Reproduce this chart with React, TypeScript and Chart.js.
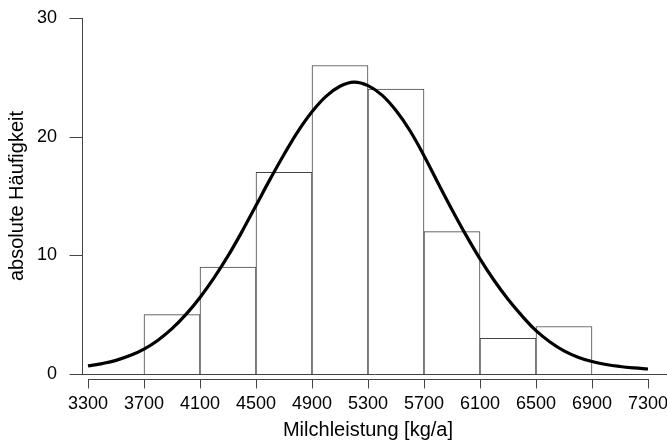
import React, { useEffect, useRef } from 'react';
import { Chart, registerables } from 'chart.js';

Chart.register(...registerables);

// Histogram bins (class centres) and absolute frequencies
const binCenters = [3900, 4300, 4700, 5100, 5500, 5900, 6300, 6700];
const binCounts = [5, 9, 17, 26, 24, 12, 3, 4];

// Fitted density curve (scaled to counts)
const curveX = [
  3300, 3400, 3500, 3600, 3700, 3800, 3900, 4000, 4100, 4200,
  4300, 4400, 4500, 4600, 4700, 4800, 4900, 5000, 5100, 5200,
  5300, 5400, 5500, 5600, 5700, 5800, 5900, 6000, 6100, 6200,
  6300, 6400, 6500, 6600, 6700, 6800, 6900, 7000, 7100, 7200, 7300,
];
const curveY = [
  0.68, 0.88, 1.15, 1.55, 2.1, 2.85, 3.82, 5.02, 6.45, 8.1,
  9.95, 12.0, 14.2, 16.4, 18.5, 20.45, 22.1, 23.4, 24.25, 24.6,
  24.3, 23.5, 22.2, 20.5, 18.4, 16.1, 13.85, 11.7, 9.7, 7.9,
  6.3, 4.9, 3.65, 2.7, 1.95, 1.42, 1.05, 0.8, 0.63, 0.51, 0.42,
];

const xTickValues = [3300, 3700, 4100, 4500, 4900, 5300, 5700, 6100, 6500, 6900, 7300];
const xTickLabels = ['3300', '3700', '4100', '4500', '4900', '5300', '5700', '6100', '6500', '6900', '7300'];
const yTickValues = [0, 10, 20, 30];
const yTickLabels = ['0', '10', '20', '30'];

const xTitle = 'Milchleistung [kg/a]';
const yTitle = 'absolute Häufigkeit';

const FONT = '"Liberation Sans", Arial, Helvetica, sans-serif';
const AXIS_COLOR = '#444';

const rAxesPlugin = {
  id: 'rAxes',
  beforeDatasetsDraw(chart: any) {
    const { ctx, scales } = chart;
    const xs = scales.x;
    const ys = scales.y;
    const y0 = Math.round(ys.getPixelForValue(0)) + 0.5;
    ctx.save();
    ctx.strokeStyle = AXIS_COLOR;
    ctx.lineWidth = 1;
    ctx.beginPath();
    ctx.moveTo(Math.round(xs.left) - 6, y0);
    ctx.lineTo(chart.width, y0);
    ctx.stroke();
    ctx.restore();
  },
  afterDraw(chart: any) {
    const { ctx, scales } = chart;
    const xs = scales.x;
    const ys = scales.y;
    ctx.save();
    ctx.strokeStyle = AXIS_COLOR;
    ctx.lineWidth = 1;
    // y axis (offset to the left)
    const ax = Math.round(xs.left) - 6 + 0.5;
    const yTop = Math.round(ys.getPixelForValue(yTickValues[yTickValues.length - 1]));
    const yBot = Math.round(ys.getPixelForValue(yTickValues[0]));
    ctx.beginPath();
    ctx.moveTo(ax, yTop);
    ctx.lineTo(ax, yBot + 1);
    yTickValues.forEach((v) => {
      const p = Math.round(ys.getPixelForValue(v)) + 0.5;
      ctx.moveTo(ax - 13, p);
      ctx.lineTo(ax, p);
    });
    ctx.stroke();
    // x axis (offset below)
    const ay = Math.round(ys.getPixelForValue(0)) + 5 + 0.5;
    const xL = Math.round(xs.getPixelForValue(xTickValues[0]));
    const xR = Math.round(xs.getPixelForValue(xTickValues[xTickValues.length - 1]));
    ctx.beginPath();
    ctx.moveTo(xL, ay);
    ctx.lineTo(xR + 1, ay);
    xTickValues.forEach((v) => {
      const p = Math.round(xs.getPixelForValue(v)) + 0.5;
      ctx.moveTo(p, ay);
      ctx.lineTo(p, ay + 9);
    });
    ctx.stroke();
    ctx.restore();
  },
};

export default function App() {
  const canvasRef = useRef<HTMLCanvasElement | null>(null);

  useEffect(() => {
    const canvas = canvasRef.current;
    if (!canvas) return;
    const chart = new Chart(canvas, {
      type: 'bar',
      data: {
        datasets: [
          {
            type: 'line',
            label: 'Normalverteilung',
            data: curveX.map((x, i) => ({ x, y: curveY[i] })),
            borderColor: '#000',
            borderWidth: 3.2,
            pointRadius: 0,
            tension: 0.4,
            fill: false,
            clip: false,
            order: 0,
          } as any,
          {
            type: 'bar',
            label: 'Häufigkeit',
            data: binCenters.map((x, i) => ({ x, y: binCounts[i] })),
            backgroundColor: '#fff',
            borderColor: '#444',
            borderWidth: 1,
            borderSkipped: 'start',
            barPercentage: 1,
            categoryPercentage: 1,
            order: 1,
          } as any,
        ],
      },
      options: {
        responsive: false,
        animation: false,
        layout: { padding: { left: 0, top: 18, right: 19, bottom: 0 } },
        plugins: {
          legend: { display: false },
          tooltip: { enabled: false },
        },
        scales: {
          x: {
            type: 'linear',
            offset: false,
            min: 3300,
            max: 7300,
            grid: { display: false, drawTicks: false, offset: false },
            border: { display: false },
            afterBuildTicks: (scale: any) => {
              scale.ticks = xTickValues.map((v) => ({ value: v }));
            },
            ticks: {
              autoSkip: false,
              maxRotation: 0,
              padding: 19,
              color: '#000',
              font: { family: FONT, size: 18 },
              callback: (v: any) => xTickLabels[xTickValues.indexOf(Number(v))] ?? '',
            },
            title: {
              display: true,
              text: xTitle,
              color: '#000',
              font: { family: FONT, size: 20 },
              padding: { top: 0, bottom: 3 },
            },
            afterFit: (scale: any) => {
              scale.height = 71;
              scale.paddingLeft = 0;
              scale.paddingRight = 0;
            },
          },
          y: {
            type: 'linear',
            min: 0,
            max: 30,
            grid: { display: false, drawTicks: false },
            border: { display: false },
            afterBuildTicks: (scale: any) => {
              scale.ticks = yTickValues.map((v) => ({ value: v }));
            },
            ticks: {
              autoSkip: false,
              padding: 31,
              color: '#000',
              font: { family: FONT, size: 18 },
              callback: (v: any) => yTickLabels[yTickValues.indexOf(Number(v))] ?? '',
            },
            title: {
              display: true,
              text: yTitle,
              color: '#000',
              font: { family: FONT, size: 20 },
              padding: { top: 5, bottom: 0 },
            },
            afterFit: (scale: any) => {
              scale.width = 88;
              scale.paddingTop = 0;
              scale.paddingBottom = 0;
            },
          },
        },
      },
      plugins: [rAxesPlugin],
    });
    return () => chart.destroy();
  }, []);

  return (
    <div style={{ position: 'absolute', left: 0, top: 0, width: 667, height: 445, background: '#fff' }}>
      <canvas ref={canvasRef} width={667} height={445} style={{ display: 'block', width: 667, height: 445 }} />
    </div>
  );
}
